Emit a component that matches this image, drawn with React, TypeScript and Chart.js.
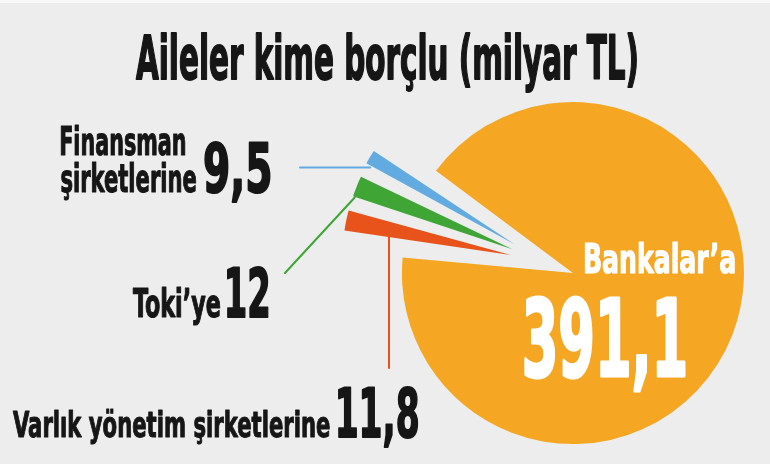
import { useEffect, useRef } from "react";
import { Chart, registerables } from "chart.js";

Chart.register(...registerables);

// Household debt by lender, billion TL
const categories = ["Bankalar’a", "Varlık yönetim şirketlerine", "Toki’ye", "Finansman şirketlerine"];
const debtValues = [391.1, 11.8, 12, 9.5];
const sliceColors = ["#F5A623", "#E8521B", "#3FA535", "#62ABE0"];
const titleText = "Aileler kime borçlu (milyar TL)";
// how each category name is broken into lines on the page
const labelLines = [["Bankalar’a"], ["Varlık yönetim şirketlerine"], ["Toki’ye"], ["Finansman", "şirketlerine"]];

const FONT = '"Liberation Sans Narrow", "DejaVu Sans Condensed", "Roboto Condensed", "Liberation Sans", sans-serif';
const BG = "#ededed";
const INK = "#161616";

const fmt = (v: number) => String(v).replace(".", ",");

// Orange slice centred on this screen angle (degrees, clockwise from 3 o'clock)
const MAIN_MID_DEG = 21;

type TextBox = { text: string; left: number; right: number; base: number; cap: number; color: string };

function drawFitted(ctx: CanvasRenderingContext2D, b: TextBox) {
  ctx.save();
  const probe = 100;
  ctx.font = `bold ${probe}px ${FONT}`;
  const capRatio = ctx.measureText("H").actualBoundingBoxAscent / probe;
  const size = b.cap / capRatio;
  ctx.font = `bold ${size}px ${FONT}`;
  const m = ctx.measureText(b.text);
  const ink = m.actualBoundingBoxLeft + m.actualBoundingBoxRight;
  const sx = (b.right - b.left) / ink;
  ctx.translate(b.left, b.base);
  ctx.scale(sx, 1);
  ctx.fillStyle = b.color;
  ctx.strokeStyle = b.color;
  ctx.lineJoin = "round";
  ctx.lineWidth = size * 0.03;
  ctx.textAlign = "left";
  ctx.textBaseline = "alphabetic";
  ctx.fillText(b.text, m.actualBoundingBoxLeft, 0);
  ctx.strokeText(b.text, m.actualBoundingBoxLeft, 0);
  ctx.restore();
}

// geometry of an arc as actually painted (offset shifts and enlarges it)
function arcGeom(arc: any) {
  const p = arc.getProps(["x", "y", "startAngle", "endAngle", "outerRadius", "circumference"]);
  const off = (arc.options.offset || 0) / 4;
  const mid = (p.startAngle + p.endAngle) / 2;
  const fix = 1 - Math.sin(Math.min(Math.PI, p.circumference));
  return {
    cx: p.x + Math.cos(mid) * off,
    cy: p.y + Math.sin(mid) * off,
    r: p.outerRadius + off * fix,
    start: p.startAngle,
    end: p.endAngle,
    mid,
  };
}

const leaderPlugin = {
  id: "leaders",
  beforeDatasetsDraw(chart: any) {
    const ctx: CanvasRenderingContext2D = chart.ctx;
    const arcs = chart.getDatasetMeta(0).data;
    ctx.save();
    ctx.lineWidth = 2;
    ctx.lineCap = "round";

    // Finansman: horizontal line out of the slice's outer corner
    {
      const g = arcGeom(arcs[3]);
      const x0 = g.cx + Math.cos(g.start) * g.r;
      const y0 = g.cy + Math.sin(g.start) * g.r;
      ctx.strokeStyle = sliceColors[3];
      ctx.beginPath();
      ctx.moveTo(x0 + 6, y0);
      ctx.lineTo(300, y0);
      ctx.stroke();
    }
    // Toki: diagonal line down to the label
    {
      const g = arcGeom(arcs[2]);
      const x0 = g.cx + Math.cos(g.start) * g.r;
      const y0 = g.cy + Math.sin(g.start) * g.r;
      ctx.strokeStyle = sliceColors[2];
      ctx.beginPath();
      ctx.moveTo(x0 + 3, y0 - 3);
      ctx.lineTo(285, 273);
      ctx.stroke();
    }
    // Varlık: vertical drop to the bottom label
    {
      const g = arcGeom(arcs[1]);
      const x0 = g.cx + Math.cos(g.mid) * g.r * 0.74;
      const y0 = g.cy + Math.sin(g.mid) * g.r * 0.74;
      ctx.strokeStyle = sliceColors[1];
      ctx.beginPath();
      ctx.moveTo(x0, y0);
      ctx.lineTo(x0, 368);
      ctx.stroke();
    }
    ctx.restore();
  },
  afterDatasetsDraw(chart: any) {
    const ctx: CanvasRenderingContext2D = chart.ctx;
    const boxes: TextBox[] = [
      { text: titleText, left: 136, right: 637, base: 79, cap: 44, color: INK },
      { text: labelLines[3][0], left: 61, right: 185, base: 155, cap: 28, color: INK },
      { text: labelLines[3][1], left: 61, right: 196, base: 192, cap: 28, color: INK },
      { text: fmt(debtValues[3]), left: 205, right: 270, base: 192, cap: 50, color: INK },
      { text: labelLines[2][0], left: 133, right: 220, base: 317, cap: 28, color: INK },
      { text: fmt(debtValues[2]), left: 227, right: 268, base: 317, cap: 50, color: INK },
      { text: labelLines[1][0], left: 13, right: 330, base: 437, cap: 26, color: INK },
      { text: fmt(debtValues[1]), left: 338, right: 418, base: 437, cap: 50, color: INK },
      { text: labelLines[0][0], left: 585, right: 735, base: 273, cap: 30, color: "#ffffff" },
      { text: fmt(debtValues[0]), left: 525, right: 685, base: 376, cap: 78, color: "#ffffff" },
    ];
    boxes.forEach((b) => drawFitted(ctx, b));
  },
};

export default function App() {
  const canvasRef = useRef<HTMLCanvasElement | null>(null);

  useEffect(() => {
    if (!canvasRef.current) return;
    const total = debtValues.reduce((a, b) => a + b, 0);
    const mainSpan = (debtValues[0] / total) * 360;
    const rotation = MAIN_MID_DEG - mainSpan / 2 + 90;

    const chart = new Chart(canvasRef.current, {
      type: "pie",
      data: {
        labels: categories,
        datasets: [
          {
            data: debtValues,
            backgroundColor: sliceColors,
            borderWidth: 0,
            offset: [124, 136, 136, 136],
            hoverOffset: 0,
            radius: 140,
            rotation,
          } as any,
        ],
      },
      options: {
        responsive: false,
        animation: false,
        devicePixelRatio: 1,
        events: [],
        rotation,
        radius: 140,
        layout: { padding: { left: 318, top: 60, right: 0, bottom: 0 } },
        plugins: {
          legend: { display: false },
          tooltip: { enabled: false },
          title: { display: false },
        },
      } as any,
      plugins: [leaderPlugin],
    });
    return () => chart.destroy();
  }, []);

  return (
    <div style={{ position: "absolute", left: 0, top: 0, width: 770, height: 464, background: BG, overflow: "hidden" }}>
      <div style={{ position: "absolute", left: 0, top: 0, width: 770, height: 3, background: "#f8f8f8" }} />
      <canvas ref={canvasRef} width={770} height={464} style={{ display: "block", width: 770, height: 464 }} />
    </div>
  );
}
